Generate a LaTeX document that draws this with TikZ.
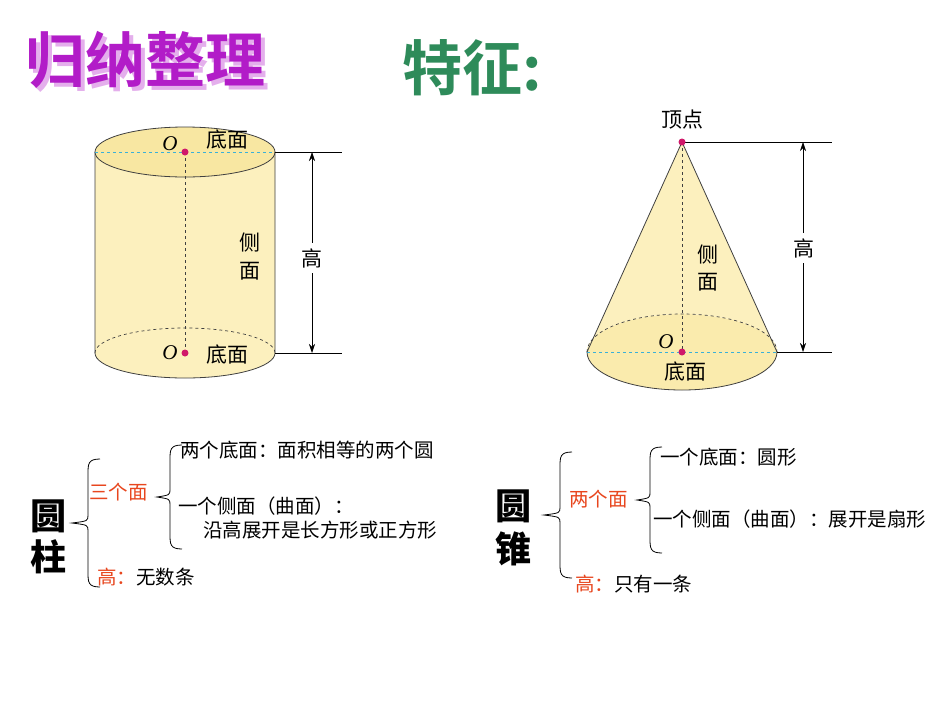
\documentclass[tikz,border=0pt]{standalone}
\usepackage{fontspec}
\setmainfont{Noto Sans CJK SC}
\newfontfamily\cjkb{Noto Sans CJK SC}[BoldFont={* Bold}]
\usetikzlibrary{arrows.meta}
\definecolor{fillY}{HTML}{FCF0BE}
\definecolor{topY}{HTML}{F8E7A2}
\definecolor{dcyan}{HTML}{3AB0D8}
\definecolor{dot}{HTML}{D0186A}
\definecolor{redt}{HTML}{E8461E}
\definecolor{titleP}{HTML}{B21CC8}
\definecolor{titleG}{HTML}{2E8B5A}
\tikzset{
  edge/.style={draw=black!75, line width=0.8pt},
  dline/.style={draw=black!75, dashed, line width=0.7pt},
  cyanl/.style={draw=dcyan, dashed, line width=0.8pt},
  dim/.style={draw=black, line width=0.6pt},
  lbl/.style={font=\fontsize{21}{21}\selectfont, inner sep=0pt},
  txt/.style={font=\fontsize{19.5}{19.5}\selectfont, inner sep=0pt, anchor=west},
  brace/.style={draw=black, line width=0.8pt},
  big/.style={font=\fontsize{36}{36}\selectfont\bfseries, inner sep=0pt}
}
\newcommand{\mybrace}[4]{% x, ytop, ybot, tipx
  \draw[brace] (#1+12,#2) .. controls (#1,#2) and (#1,#2+5) .. (#1,#2+15)
   -- (#1,{(#2+#3)/2-8}) .. controls (#1,{(#2+#3)/2-2}) .. (#4,{(#2+#3)/2})
   .. controls (#1,{(#2+#3)/2+2}) .. (#1,{(#2+#3)/2+8})
   -- (#1,#3-15) .. controls (#1,#3-5) and (#1,#3) .. (#1+12,#3);}
\begin{document}
\begin{tikzpicture}[x=1pt,y=-1pt]
\fill[white] (0,0) rectangle (950,713);
\useasboundingbox (0,0) rectangle (950,713);
% titles
\node[font=\cjkb\fontsize{60}{60}\selectfont\bfseries, text=titleP!35, inner sep=0pt] (t0) at (149,64) {归纳整理};
\node[font=\cjkb\fontsize{60}{60}\selectfont\bfseries, text=titleP, inner sep=0pt] (t1) at (145,60) {归纳整理};
\node[font=\cjkb\fontsize{60}{60}\selectfont\bfseries, text=titleG, inner sep=0pt] (t2) at (472,68) {特征:};
% cylinder
\fill[fillY] (95,152) -- (95,353) arc[start angle=180,end angle=0,x radius=90,y radius=25] -- (275,152) -- cycle;
\fill[topY] (185,152) ellipse[x radius=90, y radius=25];
\draw[edge] (185,152) ellipse[x radius=90, y radius=25];
\draw[edge] (95,152) -- (95,353) arc[start angle=180,end angle=0,x radius=90,y radius=25] -- (275,152);
\draw[dline] (95,353) arc[start angle=180,end angle=360,x radius=90,y radius=25];
\draw[dline] (185,152) -- (185,353);
\draw[cyanl] (95,152) -- (275,152);
\draw[dim] (275,152) -- (342,152) (275,353) -- (342,353);
\coordinate (ct) at (312,152); \coordinate (cb) at (312,353);
\draw[dim,{Stealth[length=9pt,width=6pt]}-{Stealth[length=9pt,width=6pt]}] (ct) -- (cb);
\fill[white] (300,243) rectangle (324,273);
\node[lbl] (ch) at (312,258) {高};
\fill[dot] (185,152) circle (3.5pt); \fill[dot] (185,353) circle (3.5pt);
\node[lbl] (o1) at (170,144) {\fontspec{Liberation Serif}\itshape O};
\node[lbl] (d1) at (227,140) {底面};
\node[lbl] (o2) at (170,353) {\fontspec{Liberation Serif}\itshape O};
\node[lbl] (d2) at (227,355) {底面};
\node[lbl] (s1) at (250,243) {侧};
\node[lbl] (s2) at (250,271) {面};
% cone
\fill[topY!60!fillY] (682,352) ellipse[x radius=95, y radius=38];
\fill[fillY] (682,142) -- (587,352) arc[start angle=180,end angle=360,x radius=95,y radius=38] -- cycle;
\draw[edge] (587,352) arc[start angle=180,end angle=0,x radius=95,y radius=38];
\draw[dline] (587,352) arc[start angle=180,end angle=360,x radius=95,y radius=38];
\draw[edge] (587,352) -- (682,142) -- (777,352);
\draw[dline] (682,142) -- (682,352);
\draw[cyanl] (587,352) -- (777,352);
\draw[dim] (682,142) -- (832,142) (777,352) -- (832,352);
\draw[dim,{Stealth[length=9pt,width=6pt]}-{Stealth[length=9pt,width=6pt]}] (803,142) -- (803,352);
\fill[white] (792,233) rectangle (816,263);
\node[lbl] (kh) at (804,248) {高};
\fill[dot] (682,142) circle (3.5pt); \fill[dot] (682,352) circle (3.5pt);
\node[lbl] (vt) at (682,120) {顶点};
\node[lbl] (o3) at (666,342) {\fontspec{Liberation Serif}\itshape O};
\node[lbl] (d3) at (685,372) {底面};
\node[lbl] (s3) at (708,255) {侧};
\node[lbl] (s4) at (708,282) {面};
% cylinder summary
\node[big] (yz1) at (48,516) {圆};
\node[big] (yz2) at (48,557) {柱};
\mybrace{88}{459}{587}{72}
\node[txt,text=redt] (a1) at (89,492) {三个面};
\mybrace{170}{445}{549}{157}
\node[txt] (a2) at (180,450) {两个底面：面积相等的两个圆};
\node[txt] (a3) at (178,506) {一个侧面（曲面）：};
\node[txt] (a4) at (203,530) {沿高展开是长方形或正方形};
\node[txt] (a5) at (97,577) {\textcolor{redt}{高：}无数条};
% cone summary
\node[big] (yz3) at (513,506) {圆};
\node[big] (yz4) at (513,549) {锥};
\mybrace{560}{452}{578}{544}
\node[txt,text=redt] (b1) at (569,499) {两个面};
\mybrace{650}{447}{553}{637}
\node[txt] (b2) at (660,457) {一个底面：圆形};
\node[txt] (b3) at (653,519) {一个侧面（曲面）：展开是扇形};
\node[txt] (b4) at (575,584) {\textcolor{redt}{高：}只有一条};
\end{tikzpicture}
\end{document}
